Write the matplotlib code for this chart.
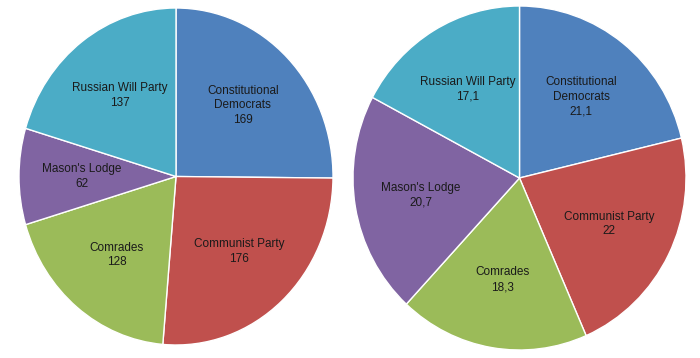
import matplotlib.pyplot as plt

parties = ["Constitutional\nDemocrats", "Communist Party", "Comrades", "Mason's Lodge", "Russian Will Party"]
seats = [169, 176, 128, 62, 137]
shares = [21.1, 22, 18.3, 20.7, 17.1]
share_text = ["21,1", "22", "18,3", "20,7", "17,1"]
colors = ["#4F81BD", "#C0504D", "#9BBB59", "#8064A2", "#4BACC6"]

W, H = 700, 358
fig = plt.figure(figsize=(W / 100, H / 100), dpi=100)


def pie_axes(x0, y0, x1, y1):
    # pixel box (image coords, y down) -> figure fraction
    ax = fig.add_axes([x0 / W, 1 - y1 / H, (x1 - x0) / W, (y1 - y0) / H])
    ax.set_xlim(-1, 1)
    ax.set_ylim(-1, 1)
    ax.set_aspect("auto")
    ax.axis("off")
    return ax


def draw(ax, vals, labels):
    wedges, texts = ax.pie(vals, labels=labels, colors=colors, startangle=90,
                           counterclock=False, radius=1, labeldistance=0.6,
                           wedgeprops=dict(edgecolor="white", linewidth=1),
                           textprops=dict(fontsize=8.5, family="Liberation Sans",
                                          color="#1a1a1a", linespacing=1.3))
    for t in texts:
        t.set_ha("center")
        t.set_va("center")
    ax.set_xlim(-1, 1)
    ax.set_ylim(-1, 1)
    ax.set_aspect("auto")


ax1 = pie_axes(19, 8, 333, 345)
draw(ax1, seats, [f"{p}\n{v}" for p, v in zip(parties, seats)])

ax2 = pie_axes(353, 6, 686, 350)
draw(ax2, shares, [f"{p}\n{v}" for p, v in zip(parties, share_text)])

fig.savefig("out.png", dpi=100)
